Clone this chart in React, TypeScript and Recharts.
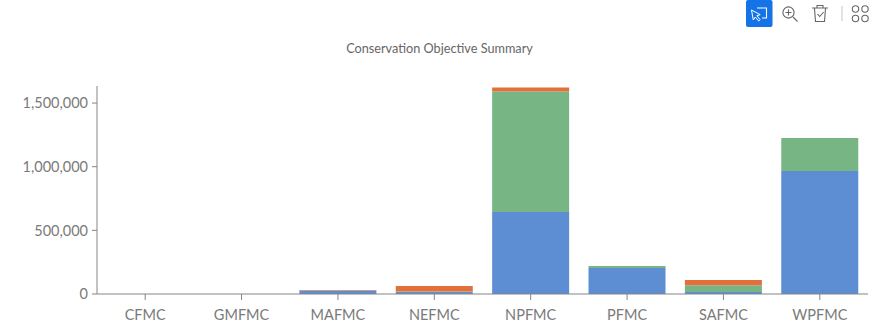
import { Bar, BarChart, XAxis, YAxis } from "recharts";

const councils = ["CFMC", "GMFMC", "MAFMC", "NEFMC", "NPFMC", "PFMC", "SAFMC", "WPFMC"];
const blueValues = [0, 0, 27000, 17000, 644000, 205000, 16000, 966000];
const greenValues = [0, 0, 1000, 2000, 946000, 14000, 52000, 259000];
const orangeValues = [0, 0, 4000, 44000, 32000, 0, 42000, 0];
const yTicks = [0, 500000, 1000000, 1500000];

const AXIS_COLOR = "#858585";
const LABEL_COLOR = "#7a7a7a";
const FONT = "Lato, sans-serif";

const rows = councils.map((name, i) => ({
  name,
  blue: blueValues[i],
  green: greenValues[i],
  orange: orangeValues[i],
}));

// Selection / zoom / clear / menu buttons above the chart
function Toolbar() {
  return (
    <svg
      width={130}
      height={30}
      style={{ position: "absolute", left: 742, top: 0 }}
      fill="none"
      stroke="#666"
      strokeWidth={1.1}
    >
      <rect x={4} y={0} width={26.5} height={27} rx={2} fill="#1473e6" stroke="none" />
      <path d="M15 8h9.5v10H20" stroke="#fff" />
      <path d="M9.5 10l1.8 10 2-3 3.4 4 1.5-1.3-3.3-4 3.3-1z" stroke="#fff" strokeWidth={1} />
      <circle cx={46.5} cy={12.5} r={5.6} />
      <path d="M46.5 9.5v6M43.5 12.5h6M51 17l4.5 4.5" />
      <path d="M70 8h16M75 8V5.5h6V8M72.5 8.5l1 13h9l1-13" />
      <path d="M75.5 14l2.2 2.5 4-4.5" />
      <path d="M100 6v15" stroke="#ccc" />
      <circle cx={113.5} cy={9} r={3.2} />
      <circle cx={123} cy={9} r={3.2} />
      <circle cx={113.5} cy={18.5} r={3.2} />
      <circle cx={123} cy={18.5} r={3.2} />
    </svg>
  );
}

export default function App() {
  return (
    <div style={{ position: "absolute", left: 0, top: 0, width: 872, height: 332, fontFamily: FONT, background: "#fff" }}>
      <Toolbar />
      <div
        style={{
          position: "absolute",
          top: 40,
          left: 0,
          width: 879,
          textAlign: "center",
          fontSize: 12.7,
          color: "#666",
        }}
      >
        Conservation Objective Summary
      </div>
      <BarChart
        width={872}
        height={332}
        data={rows}
        barCategoryGap="10%"
        margin={{ top: 86, right: 4, bottom: 0, left: 0 }}
      >
        <XAxis
          dataKey="name"
          height={38}
          interval={0}
          tickSize={6}
          tickMargin={10}
          stroke={AXIS_COLOR}
          tick={{ fill: LABEL_COLOR, fontSize: 14.5, fontFamily: FONT }}
        />
        <YAxis
          width={97}
          domain={[0, 1634000]}
          ticks={yTicks}
          tickSize={5}
          tickMargin={4}
          stroke={AXIS_COLOR}
          tickFormatter={(v: number) => v.toLocaleString("en-US")}
          tick={{ fill: LABEL_COLOR, fontSize: 14.5, fontFamily: FONT }}
        />
        <Bar dataKey="blue" stackId="a" fill="#5d8ed3" isAnimationActive={false} />
        <Bar dataKey="green" stackId="a" fill="#77b584" isAnimationActive={false} />
        <Bar dataKey="orange" stackId="a" fill="#e2703a" isAnimationActive={false} />
      </BarChart>
    </div>
  );
}
